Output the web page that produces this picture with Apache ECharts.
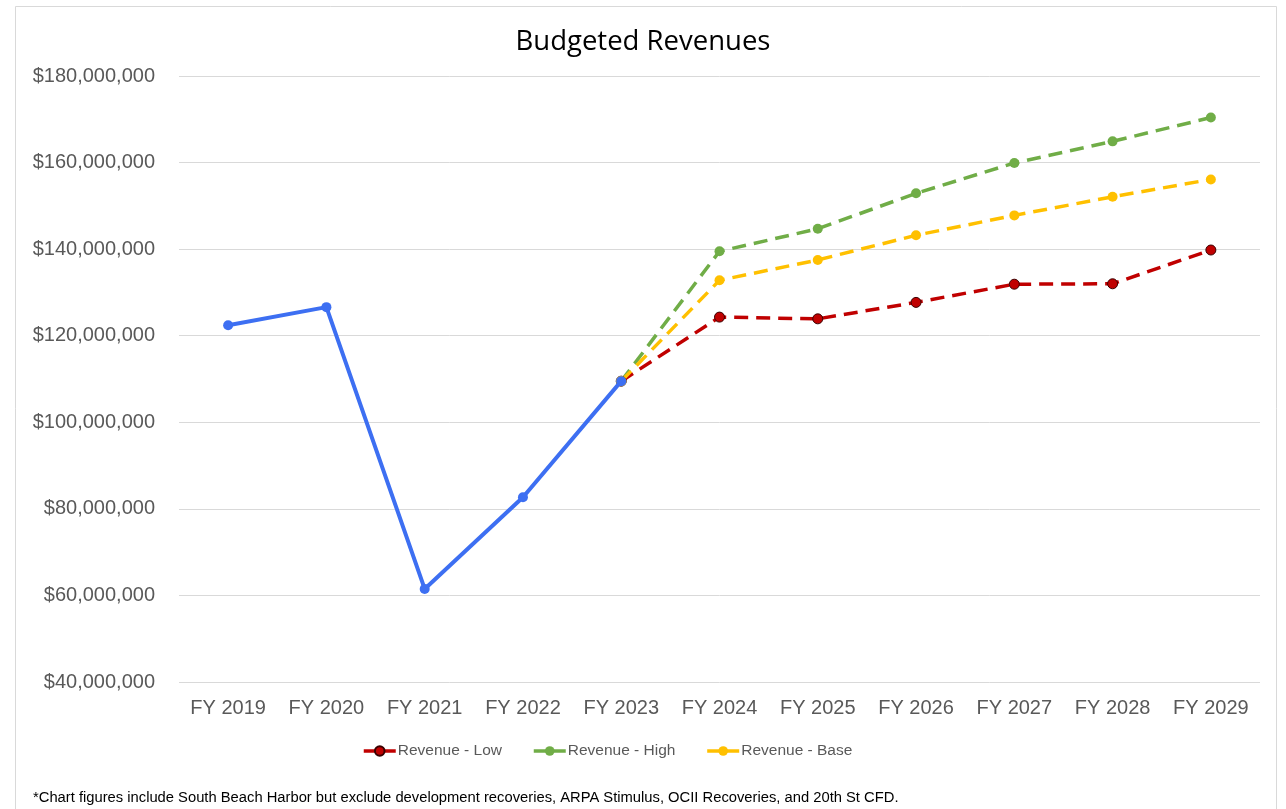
<!DOCTYPE html>
<html>
<head>
<meta charset="utf-8">
<script src="https://cdn.jsdelivr.net/npm/echarts@6/dist/echarts.min.js"></script>
<style>
html,body{margin:0;padding:0;background:#fff;}
#chart{width:1286px;height:809px;}
</style>
</head>
<body>
<div id="chart"></div>
<script>
const categories = ['FY 2019','FY 2020','FY 2021','FY 2022','FY 2023','FY 2024','FY 2025','FY 2026','FY 2027','FY 2028','FY 2029'];
const actual = [122400000, 126600000, 61500000, 82700000, 109500000, null, null, null, null, null, null];
const revenueLow = [null, null, null, null, 109500000, 124300000, 123900000, 127700000, 131900000, 132000000, 139800000];
const revenueHigh = [null, null, null, null, 109500000, 139500000, 144700000, 152900000, 159900000, 164900000, 170400000];
const revenueBase = [null, null, null, null, 109500000, 132800000, 137500000, 143200000, 147800000, 152100000, 156100000];
const yTicks = { min: 40000000, max: 180000000, interval: 20000000 };

const chart = echarts.init(document.getElementById('chart'), null, {renderer: 'canvas'});
function fmt(v){ return '$' + Math.round(v).toString().replace(/\B(?=(\d{3})+(?!\d))/g, ','); }
const dashed = [14, 8];
function fc(name, color, data, border){
  return {
    name: name, type: 'line', data: data, connectNulls: false,
    symbol: 'circle', symbolSize: 10,
    lineStyle: {color: color, width: 3.5, type: dashed},
    itemStyle: {color: color, borderColor: border || color, borderWidth: border ? 1 : 0},
    emphasis: {disabled: true}, z: 2
  };
}
chart.setOption({
  animation: false,
  backgroundColor: '#fff',
  title: [{
    text: 'Budgeted Revenues', left: 'center', top: 23,
    textStyle: {fontFamily: 'Open Sans', fontSize: 27.5, fontWeight: 'normal', color: '#000'}
  },{
    text: '*Chart figures include South Beach Harbor but exclude development recoveries, ARPA Stimulus, OCII Recoveries, and 20th St CFD.',
    left: 28, top: 785,
    textStyle: {fontFamily: 'Liberation Sans', fontSize: 14.75, fontWeight: 'normal', color: '#000'}
  }],
  graphic: [{
    type: 'rect', shape: {x: 15.5, y: 6.5, width: 1261, height: 820},
    style: {fill: 'none', stroke: '#d9d9d9', lineWidth: 1}, silent: true, z: -1
  }],
  legend: {
    data: ['Revenue - Low', 'Revenue - High', 'Revenue - Base'],
    left: 357, top: 738, itemWidth: 32, itemHeight: 12, itemGap: 30,
    lineStyle: {width: 3.5, type: 'solid'},
    textStyle: {fontFamily: 'Liberation Sans', fontSize: 15.5, color: '#595959', padding: [0,0,0,-3]}
  },
  grid: {left: 179, right: 26, top: 76, bottom: 127},
  xAxis: {
    type: 'category', data: categories, boundaryGap: true,
    axisLine: {show: false}, axisTick: {show: false},
    axisLabel: {interval: 0, hideOverlap: false, fontFamily: 'Liberation Sans', fontSize: 20, color: '#595959', margin: 16}
  },
  yAxis: {
    type: 'value', min: yTicks.min, max: yTicks.max, interval: yTicks.interval,
    axisLine: {show: false}, axisTick: {show: false},
    splitLine: {lineStyle: {color: '#d9d9d9', width: 1}},
    axisLabel: {fontFamily: 'Liberation Sans', fontSize: 20, color: '#595959', margin: 24, formatter: fmt}
  },
  series: [
    fc('Revenue - Low', '#C00000', revenueLow, '#3a0000'),
    fc('Revenue - High', '#70AD47', revenueHigh),
    fc('Revenue - Base', '#FFC000', revenueBase),
    {
      name: 'Actual', type: 'line', data: actual, symbol: 'circle', symbolSize: 10,
      lineStyle: {color: '#3D6FF2', width: 4}, itemStyle: {color: '#3D6FF2'},
      emphasis: {disabled: true}, z: 3
    }
  ]
});
</script>
</body>
</html>
